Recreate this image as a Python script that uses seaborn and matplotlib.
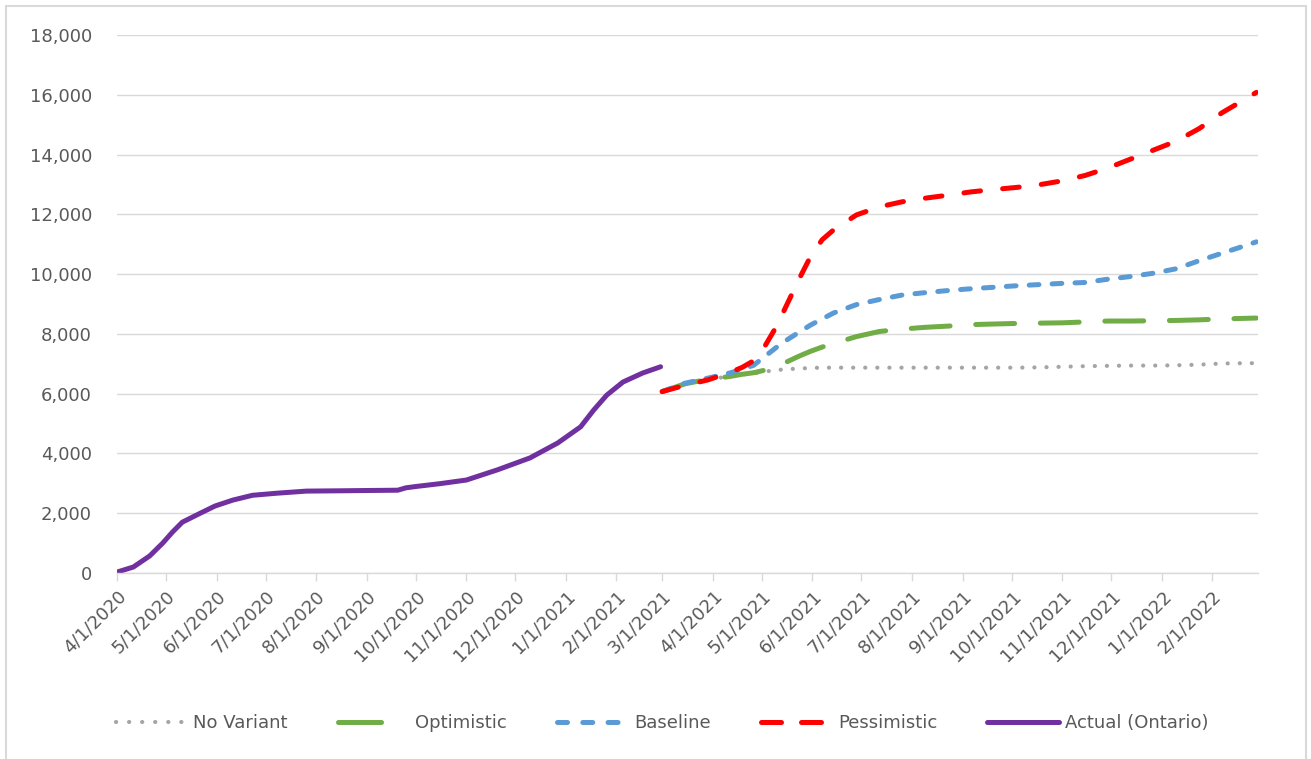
import pandas as pd
import matplotlib
matplotlib.use("Agg")
import matplotlib.pyplot as plt
import matplotlib.dates as mdates
from matplotlib.ticker import FuncFormatter, MultipleLocator
from matplotlib.patches import Rectangle
from matplotlib.lines import Line2D
import seaborn as sns

# Reported cumulative deaths, Ontario
actual_dates = [
    "2020-04-01", "2020-04-11", "2020-04-21", "2020-04-29", "2020-05-05",
    "2020-05-11", "2020-05-22", "2020-05-31", "2020-06-11", "2020-06-23",
    "2020-07-08", "2020-07-26", "2020-08-15", "2020-09-01", "2020-09-20",
    "2020-09-25", "2020-10-02", "2020-10-16", "2020-11-01", "2020-11-20",
    "2020-12-10", "2020-12-27", "2021-01-10", "2021-01-18", "2021-01-26",
    "2021-02-05", "2021-02-17", "2021-02-28",
]
actual_deaths = [
    30, 200, 570, 1000, 1370,
    1700, 2000, 2240, 2440, 2600,
    2670, 2740, 2750, 2760, 2770,
    2850, 2900, 2990, 3110, 3450,
    3850, 4350, 4890, 5450, 5950,
    6390, 6690, 6900,
]

# Projected cumulative deaths under each scenario
scenario_dates = [
    "2021-03-01", "2021-03-15", "2021-03-29", "2021-04-12", "2021-04-19",
    "2021-04-26", "2021-05-03", "2021-05-10", "2021-05-17", "2021-05-24",
    "2021-05-31", "2021-06-07", "2021-06-14", "2021-06-28", "2021-07-12",
    "2021-07-26", "2021-08-09", "2021-08-23", "2021-09-06", "2021-09-20",
    "2021-10-04", "2021-10-18", "2021-11-01", "2021-11-15", "2021-11-29",
    "2021-12-13", "2021-12-27", "2022-01-10", "2022-01-24", "2022-02-07",
    "2022-02-21", "2022-02-28",
]
no_variant = [
    6070, 6330, 6480, 6580, 6640,
    6680, 6740, 6790, 6820, 6840,
    6860, 6870, 6870, 6870, 6870,
    6870, 6870, 6870, 6870, 6870,
    6870, 6880, 6900, 6920, 6930,
    6940, 6940, 6950, 6970, 7010,
    7020, 7020,
]
optimistic = [
    6070, 6330, 6480, 6580, 6650,
    6700, 6790, 6930, 7080, 7260,
    7420, 7560, 7680, 7910, 8080,
    8160, 8220, 8260, 8310, 8330,
    8350, 8360, 8370, 8400, 8430,
    8430, 8440, 8450, 8470, 8500,
    8520, 8530,
]
baseline = [
    6070, 6350, 6520, 6700, 6820,
    6950, 7250, 7550, 7820, 8060,
    8300, 8500, 8700, 8980, 9150,
    9300, 9380, 9450, 9510, 9560,
    9610, 9650, 9690, 9720, 9830,
    9920, 10030, 10180, 10450, 10700,
    10950, 11080,
]
pessimistic = [
    6070, 6280, 6460, 6720, 6880,
    7100, 7600, 8250, 9050, 9850,
    10600, 11150, 11480, 11980, 12250,
    12420, 12540, 12640, 12750, 12830,
    12900, 12990, 13120, 13300, 13550,
    13850, 14150, 14450, 14870, 15400,
    15850, 16080,
]

month_ticks = pd.date_range("2020-04-01", "2022-02-01", freq="MS")
x_start, x_end = pd.Timestamp("2020-04-01"), pd.Timestamp("2022-03-01")

actual_df = pd.DataFrame({"date": pd.to_datetime(actual_dates), "deaths": actual_deaths})
scen_df = pd.DataFrame({
    "date": pd.to_datetime(scenario_dates),
    "No Variant": no_variant,
    "Optimistic": optimistic,
    "Baseline": baseline,
    "Pessimistic": pessimistic,
})

sns.set_theme(style="white")
plt.rcParams["font.family"] = ["DejaVu Sans"]
plt.rcParams["lines.scale_dashes"] = False

TEXT = "#595959"
GRID = "#D9D9D9"

W, H = 1311, 759
fig = plt.figure(figsize=(W / 100, H / 100), dpi=100)
ax = fig.add_axes([117 / W, 1 - 573 / H, (1258 - 117) / W, (573 - 35) / H])

# (label, colour, linewidth, dash pattern on the chart, dash pattern in the key), points
styles = [
    ("No Variant", "#A5A5A5", 3.0, (0.1, 8.6), (0.1, 9.3)),
    ("Optimistic", "#70AD47", 3.6, (28.0, 18.5), (31.0, 40.0)),
    ("Baseline", "#5B9BD5", 3.6, (7.0, 9.5), (7.2, 11.0)),
    ("Pessimistic", "#FF0000", 3.6, (12.0, 16.0), (14.4, 14.4)),
]
key_handles = []
for name, color, lw, dash, key_dash in styles:
    sns.lineplot(data=scen_df, x="date", y=name, ax=ax, color=color,
                 linewidth=lw, legend=False)
    line = ax.lines[-1]
    line.set_dashes(dash)
    line.set_dash_capstyle("round")
    h = Line2D([], [], color=color, linewidth=lw, dashes=key_dash,
               dash_capstyle="round", label=name)
    key_handles.append(h)

sns.lineplot(data=actual_df, x="date", y="deaths", ax=ax, color="#7030A0",
             linewidth=3.6, legend=False)
ax.lines[-1].set_solid_capstyle("round")
key_handles.append(Line2D([], [], color="#7030A0", linewidth=3.6,
                          solid_capstyle="round", label="Actual (Ontario)"))

ax.set_xlim(x_start, x_end)
ax.set_ylim(0, 18000)
ax.yaxis.set_major_locator(MultipleLocator(2000))
ax.yaxis.set_major_formatter(FuncFormatter(lambda v, p: f"{int(v):,}"))
ax.set_xticks(month_ticks)
ax.xaxis.set_major_formatter(FuncFormatter(
    lambda v, p: (lambda d: f"{d.month}/{d.day}/{d.year}")(mdates.num2date(v))))
ax.set_xlabel("")
ax.set_ylabel("")

ax.yaxis.grid(True, color=GRID, linewidth=1.0)
ax.xaxis.grid(False)
for side in ("left", "right", "top"):
    ax.spines[side].set_visible(False)
ax.spines["bottom"].set_color(GRID)
ax.spines["bottom"].set_linewidth(1.0)

ax.tick_params(axis="y", length=0, pad=18, labelsize=13, labelcolor=TEXT)
ax.tick_params(axis="x", direction="out", length=6, width=1.0, color=GRID,
               pad=4, labelsize=13, labelcolor=TEXT, bottom=True)
for lbl in ax.get_xticklabels():
    lbl.set_rotation(45)
    lbl.set_ha("right")
    lbl.set_va("top")
    lbl.set_rotation_mode("anchor")

fig.legend(handles=key_handles, loc="center", bbox_to_anchor=(0.505, 1 - 723 / H),
           ncol=5, frameon=False, fontsize=13, labelcolor=TEXT,
           handlelength=4.0, handletextpad=0.3, columnspacing=2.75)

# light chart-area border
fig.patches.append(Rectangle((6 / W, -0.05), 1300 / W, 1 - 6 / H + 0.05,
                             transform=fig.transFigure, fill=False,
                             edgecolor=GRID, linewidth=1.5))

fig.savefig("out.png", dpi=100, facecolor="white")
